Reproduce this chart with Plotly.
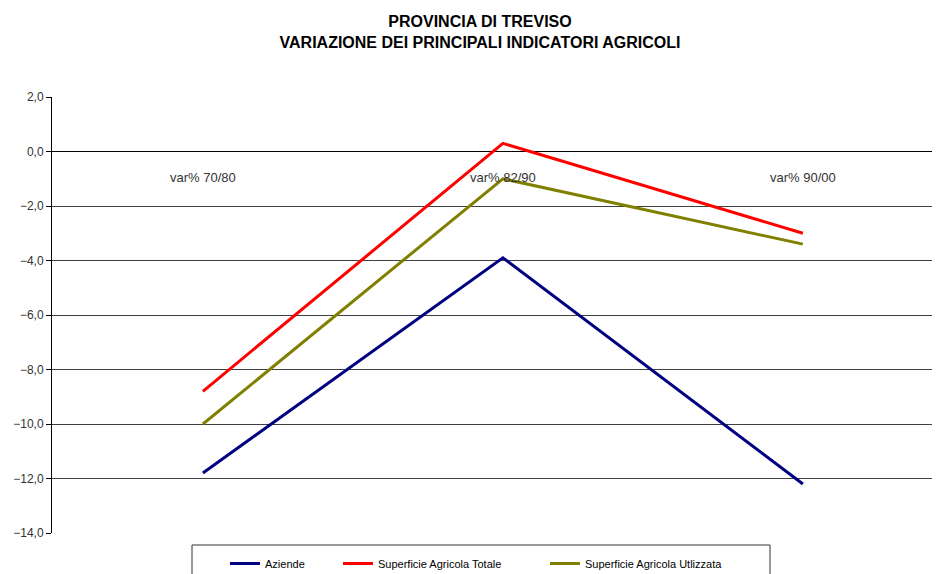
import plotly.graph_objects as go

categories = ["var% 70/80", "var% 82/90", "var% 90/00"]
aziende = [-11.8, -3.9, -12.2]
sat = [-8.8, 0.3, -3.0]
sau = [-10.0, -1.0, -3.4]
series_names = ["Aziende", "Superficie Agricola Totale", "Superficie Agricola Utlizzata"]
series_values = [aziende, sat, sau]
colors = ["#000080", "#FF0000", "#808000"]
legend_ids = ["legend", "legend2", "legend3"]
yticks = [2, 0, -2, -4, -6, -8, -10, -12, -14]

O = 8
W, H = 940 - O, 574 - O
ml, mr, mt, mb = 52 - O, 0, 97 - O, 41
pw = W - ml - mr
ph = H - mt - mb

fig = go.Figure()
for name, vals, col, lg in zip(series_names, series_values, colors, legend_ids):
    fig.add_trace(go.Scatter(x=categories, y=vals, mode="lines", name=name,
                             line=dict(color=col, width=3), legend=lg))

# category labels drawn inside plot just below zero line
for c in categories:
    fig.add_annotation(x=c, y=0, xref="x", yref="y", text=c, showarrow=False,
                       yanchor="middle", yshift=-25.5,
                       font=dict(family="Liberation Sans, Arial", size=13, color="#333333"))

def px_x(x):  # screen x -> paper
    return (x - O - ml) / pw

def px_y(y):  # screen y -> paper
    return (H - mb - (y - O)) / ph

leg_common = dict(orientation="h", bgcolor="rgba(0,0,0,0)", borderwidth=0,
                  font=dict(family="Liberation Sans, Arial", size=11, color="#000000"),
                  xanchor="left", yanchor="top", itemwidth=30,
                  xref="container", yref="container")
legend_x = [225, 338, 545]
layout_legends = {}
for lg, lx in zip(legend_ids, legend_x):
    layout_legends[lg] = dict(leg_common, x=(lx - O) / W, y=1 - (549 - O) / H)

fig.add_shape(type="rect", xref="paper", yref="paper",
              x0=px_x(192), x1=px_x(770), y0=px_y(600), y1=px_y(545),
              line=dict(color="#333333", width=1), fillcolor="rgba(0,0,0,0)", layer="below")

fig.update_layout(
    width=W, height=H,
    margin=dict(l=ml, r=mr, t=mt, b=mb, autoexpand=False),
    paper_bgcolor="white", plot_bgcolor="white",
    separators=", ",
    title=dict(text="PROVINCIA DI TREVISO<br>VARIAZIONE DEI PRINCIPALI INDICATORI AGRICOLI",
               x=(480 - O) / W, xanchor="center", xref="container",
               y=1 - 19 / H, yanchor="top", yref="container",
               font=dict(family="Liberation Sans, Arial", size=16, color="#000000", weight="bold")),
    xaxis=dict(type="category", range=[-0.503, 2.457], showticklabels=False,
               showgrid=False, zeroline=False, showline=False, ticks="", automargin=False),
    yaxis=dict(range=[-14, 2], tickvals=yticks, tickformat=".1f", automargin=False,
               showgrid=True, gridcolor="#404040", gridwidth=1,
               zeroline=True, zerolinecolor="#000000", zerolinewidth=1,
               showline=True, linecolor="#000000", linewidth=1,
               ticks="outside", ticklen=5, tickcolor="#000000",
               tickfont=dict(family="Liberation Sans, Arial", size=12, color="#333333")),
    showlegend=True,
    **layout_legends,
)

fig.write_html("out.html")
